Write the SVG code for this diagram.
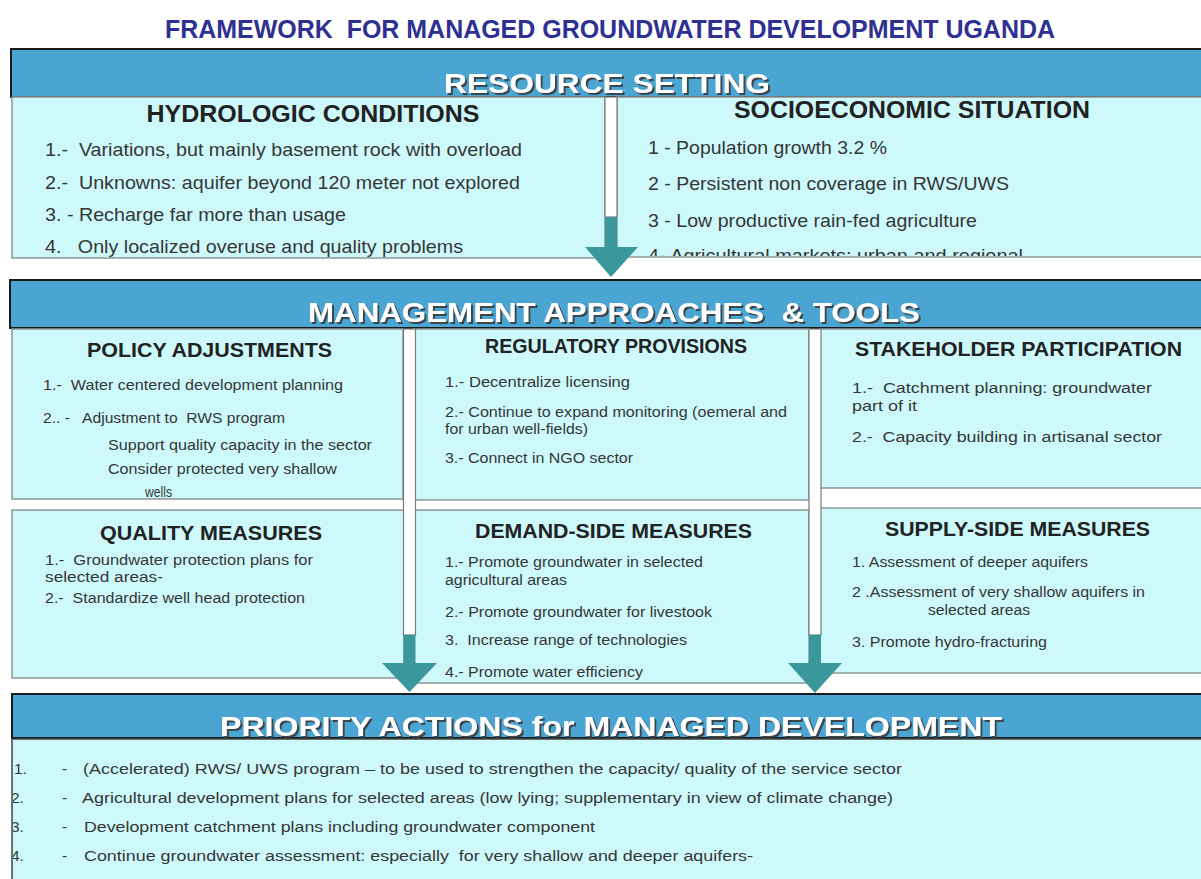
<svg xmlns="http://www.w3.org/2000/svg" width="1201" height="879" viewBox="0 0 1201 879">
<defs>
<style>
text{font-family:"Liberation Sans",Arial,sans-serif;white-space:pre}
.title{font-size:25px;font-weight:bold;fill:#2e3192;text-anchor:middle}
.band{fill:#4aa5d3;stroke:#1a1a1a;stroke-width:2}
.bandtxt{font-size:28px;font-weight:bold;fill:#ffffff;text-anchor:middle;filter:url(#shadow)}
.box{fill:#cdf9fb;stroke:#8c9696;stroke-width:1.5}
.h1{font-size:24px;font-weight:bold;fill:#222;text-anchor:middle}
.h2{font-size:21px;font-weight:bold;fill:#222;text-anchor:middle}
.it1{font-size:19px;fill:#363636}
.it2{font-size:15.5px;fill:#363636}
.strip{fill:#ffffff;stroke:#7a7a7a;stroke-width:1.2}
.arrow{fill:#3a989c}
</style>
<filter id="shadow" x="-5%" y="-20%" width="110%" height="150%">
<feDropShadow dx="2" dy="2" stdDeviation="0.7" flood-color="#3a3a3a" flood-opacity="0.9"/>
</filter>
<clipPath id="clipSocio"><rect x="617" y="97" width="590" height="159"/></clipPath>
<clipPath id="clipPrio"><rect x="13" y="738" width="1200" height="150"/></clipPath>
</defs>
<rect x="0" y="0" width="1201" height="879" fill="#ffffff"/>

<g id="title">
<text class="title" x="610" y="38" textLength="890" lengthAdjust="spacingAndGlyphs">FRAMEWORK  FOR MANAGED GROUNDWATER DEVELOPMENT UGANDA</text>
</g>

<g id="band-resource">
<rect class="band" x="11" y="49" width="1200" height="48"/>
</g>

<g id="node-hydrologic">
<rect class="box" x="12" y="97" width="593" height="161"/>
<text class="h1" x="313" y="122" textLength="333" lengthAdjust="spacingAndGlyphs">HYDROLOGIC CONDITIONS</text>
<text class="it1" x="45" y="156" textLength="477" lengthAdjust="spacingAndGlyphs">1.-  Variations, but mainly basement rock with overload</text>
<text class="it1" x="45" y="189" textLength="475" lengthAdjust="spacingAndGlyphs">2.-  Unknowns: aquifer beyond 120 meter not explored</text>
<text class="it1" x="45" y="221" textLength="301" lengthAdjust="spacingAndGlyphs">3. - Recharge far more than usage</text>
<text class="it1" x="45" y="253" textLength="418" lengthAdjust="spacingAndGlyphs">4.   Only localized overuse and quality problems</text>
</g>

<g id="node-socioeconomic">
<rect class="box" x="617" y="97" width="590" height="160"/>
<text class="h1" x="912" y="118" textLength="356" lengthAdjust="spacingAndGlyphs">SOCIOECONOMIC SITUATION</text>
<g clip-path="url(#clipSocio)">
<text class="it1" x="648" y="154" textLength="239" lengthAdjust="spacingAndGlyphs">1 - Population growth 3.2 %</text>
<text class="it1" x="648" y="190" textLength="361" lengthAdjust="spacingAndGlyphs">2 - Persistent non coverage in RWS/UWS</text>
<text class="it1" x="648" y="227" textLength="329" lengthAdjust="spacingAndGlyphs">3 - Low productive rain-fed agriculture</text>
<text class="it1" x="648" y="262" textLength="375" lengthAdjust="spacingAndGlyphs">4- Agricultural markets: urban and regional</text>
</g>
</g>

<g id="band-resource-title">
<text class="bandtxt" x="607" y="93" textLength="326" lengthAdjust="spacingAndGlyphs">RESOURCE SETTING</text>
</g>

<g id="band-management">
<rect class="band" x="10" y="280" width="1201" height="48"/>
<text class="bandtxt" x="614" y="322" textLength="612" lengthAdjust="spacingAndGlyphs">MANAGEMENT APPROACHES  &amp; TOOLS</text>
</g>

<g id="node-policy">
<rect class="box" x="12" y="329" width="391" height="170"/>
<text class="h2" x="209.5" y="357" textLength="245" lengthAdjust="spacingAndGlyphs">POLICY ADJUSTMENTS</text>
<text class="it2" x="43" y="390" textLength="300" lengthAdjust="spacingAndGlyphs">1.-  Water centered development planning</text>
<text class="it2" x="43" y="423" textLength="242" lengthAdjust="spacingAndGlyphs">2.. -   Adjustment to  RWS program</text>
<text class="it2" x="108" y="450" textLength="264" lengthAdjust="spacingAndGlyphs">Support quality capacity in the sector</text>
<text class="it2" x="108" y="474" textLength="229" lengthAdjust="spacingAndGlyphs">Consider protected very shallow</text>
<text class="it2" x="145" y="497" textLength="27" lengthAdjust="spacingAndGlyphs">wells</text>
</g>

<g id="node-regulatory">
<rect class="box" x="413" y="329" width="396" height="171"/>
<text class="h2" x="616" y="353" textLength="262" lengthAdjust="spacingAndGlyphs">REGULATORY PROVISIONS</text>
<text class="it2" x="445" y="387" textLength="185" lengthAdjust="spacingAndGlyphs">1.- Decentralize licensing</text>
<text class="it2" x="445" y="417" textLength="342" lengthAdjust="spacingAndGlyphs">2.- Continue to expand monitoring (oemeral and</text>
<text class="it2" x="445" y="434" textLength="143" lengthAdjust="spacingAndGlyphs">for urban well-fields)</text>
<text class="it2" x="445" y="463" textLength="188" lengthAdjust="spacingAndGlyphs">3.- Connect in NGO sector</text>
</g>

<g id="node-stakeholder">
<rect class="box" x="820" y="329" width="390" height="159"/>
<text class="h2" x="1018.5" y="356" textLength="327" lengthAdjust="spacingAndGlyphs">STAKEHOLDER PARTICIPATION</text>
<text class="it2" x="852" y="393" textLength="300" lengthAdjust="spacingAndGlyphs">1.-  Catchment planning: groundwater</text>
<text class="it2" x="852" y="411" textLength="65" lengthAdjust="spacingAndGlyphs">part of it</text>
<text class="it2" x="852" y="442" textLength="310" lengthAdjust="spacingAndGlyphs">2.-  Capacity building in artisanal sector</text>
</g>

<g id="node-quality">
<rect class="box" x="12" y="510" width="392" height="168"/>
<text class="h2" x="211" y="540" textLength="222" lengthAdjust="spacingAndGlyphs">QUALITY MEASURES</text>
<text class="it2" x="45" y="565" textLength="268" lengthAdjust="spacingAndGlyphs">1.-  Groundwater protection plans for</text>
<text class="it2" x="45" y="582" textLength="118" lengthAdjust="spacingAndGlyphs">selected areas-</text>
<text class="it2" x="45" y="603" textLength="260" lengthAdjust="spacingAndGlyphs">2.-  Standardize well head protection</text>
</g>

<g id="node-demand">
<rect class="box" x="413" y="510" width="396" height="173"/>
<text class="h2" x="613.5" y="538" textLength="277" lengthAdjust="spacingAndGlyphs">DEMAND-SIDE MEASURES</text>
<text class="it2" x="445" y="567" textLength="258" lengthAdjust="spacingAndGlyphs">1.- Promote groundwater in selected</text>
<text class="it2" x="445" y="585" textLength="122" lengthAdjust="spacingAndGlyphs">agricultural areas</text>
<text class="it2" x="445" y="617" textLength="267" lengthAdjust="spacingAndGlyphs">2.- Promote groundwater for livestook</text>
<text class="it2" x="445" y="645" textLength="242" lengthAdjust="spacingAndGlyphs">3.  Increase range of technologies</text>
<text class="it2" x="445" y="677" textLength="198" lengthAdjust="spacingAndGlyphs">4.- Promote water efficiency</text>
</g>

<g id="node-supply">
<rect class="box" x="820" y="508" width="390" height="165"/>
<text class="h2" x="1017.5" y="536" textLength="265" lengthAdjust="spacingAndGlyphs">SUPPLY-SIDE MEASURES</text>
<text class="it2" x="852" y="567" textLength="236" lengthAdjust="spacingAndGlyphs">1. Assessment of deeper aquifers</text>
<text class="it2" x="852" y="597" textLength="293" lengthAdjust="spacingAndGlyphs">2 .Assessment of very shallow aquifers in</text>
<text class="it2" x="928" y="615" textLength="102" lengthAdjust="spacingAndGlyphs">selected areas</text>
<text class="it2" x="852" y="647" textLength="195" lengthAdjust="spacingAndGlyphs">3. Promote hydro-fracturing</text>
</g>

<g id="band-priority">
<rect class="band" x="12" y="694" width="1200" height="44"/>
<text class="bandtxt" x="611" y="736" textLength="782" lengthAdjust="spacingAndGlyphs">PRIORITY ACTIONS for MANAGED DEVELOPMENT</text>
</g>

<g id="node-priority">
<rect class="box" x="12" y="739" width="1200" height="150" style="stroke:#444"/>
<g clip-path="url(#clipPrio)">
<text class="it2" x="14" y="774">1.</text>
<text class="it2" x="62" y="774">-</text>
<text class="it2" x="83" y="774" textLength="819" lengthAdjust="spacingAndGlyphs">(Accelerated) RWS/ UWS program – to be used to strengthen the capacity/ quality of the service sector</text>
<text class="it2" x="11" y="803">2.</text>
<text class="it2" x="62" y="803">-</text>
<text class="it2" x="82" y="803" textLength="811" lengthAdjust="spacingAndGlyphs">Agricultural development plans for selected areas (low lying; supplementary in view of climate change)</text>
<text class="it2" x="11" y="832">3.</text>
<text class="it2" x="62" y="832">-</text>
<text class="it2" x="84" y="832" textLength="511" lengthAdjust="spacingAndGlyphs">Development catchment plans including groundwater component</text>
<text class="it2" x="11" y="861">4.</text>
<text class="it2" x="62" y="861">-</text>
<text class="it2" x="84" y="861" textLength="669" lengthAdjust="spacingAndGlyphs">Continue groundwater assessment: especially  for very shallow and deeper aquifers-</text>
</g>
</g>

<g id="connectors">
<rect class="strip" x="605" y="97" width="12" height="120"/>
<polygon class="arrow" points="605,217 617,217 617,247 638,247 611,277 585,247 605,247"/>
<rect class="strip" x="403.5" y="329" width="12" height="306"/>
<polygon class="arrow" points="403.5,635 415.5,635 415.5,663 437,663 409.5,692 382,663 403.5,663"/>
<rect class="strip" x="809" y="329" width="12" height="306"/>
<polygon class="arrow" points="809,635 821,635 821,663 842,663 815,693 788,663 809,663"/>
</g>
</svg>
